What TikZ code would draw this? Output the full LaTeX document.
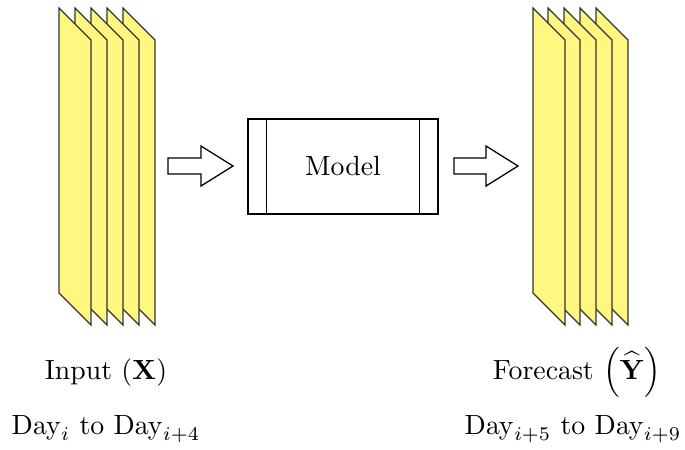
\documentclass[tikz,border=0pt]{standalone}
\usepackage{amsmath}
\begin{document}
\begin{tikzpicture}[x=0.36pt,y=-0.36pt,
  plane/.style={draw=black!80,fill=yellow!50,line width=0.45pt,line join=miter},
  blockarrow/.style={draw=black,fill=white,line width=0.45pt},
  box/.style={draw=black,line width=0.45pt},
  lbl/.style={anchor=base,inner sep=0pt,font=\normalsize}]
\useasboundingbox (0,0) rectangle (685,449);
% input stack (back to front)
\foreach \x in {123,107,91,75,59}{
  \draw[plane] (\x,8) -- (\x+32,40) -- (\x+32,325) -- (\x,293) -- cycle;
}
% output stack
\foreach \x in {596,580,564,548,533}{
  \draw[plane] (\x,8) -- (\x+32,40) -- (\x+32,325) -- (\x,293) -- cycle;
}
% block arrows
\draw[blockarrow] (168,158) -- (201,158) -- (201,146) -- (233,166) -- (201,186) -- (201,174) -- (168,174) -- cycle;
\draw[blockarrow] (454,158) -- (486,158) -- (486,146) -- (518,166) -- (486,186) -- (486,174) -- (454,174) -- cycle;
% model
\node[box,minimum width=68.4pt,minimum height=34.2pt,inner sep=0pt] (model) at (343,166.5) {Model};
\draw[box] ([xshift=7pt]model.north west) -- ([xshift=7pt]model.south west);
\draw[box] ([xshift=-7pt]model.north east) -- ([xshift=-7pt]model.south east);
% labels
\node[lbl] (inlbl) at (106,379) {Input ($\mathbf{X}$)};
\node[lbl] (inday) at (106,434) {$\mathrm{Day}_{i}$ to $\mathrm{Day}_{i+4}$};
\node[lbl] (outlbl) at (577,379) {Forecast $\left(\widehat{\mathbf{Y}}\right)$};
\node[lbl] (outday) at (573,434) {$\mathrm{Day}_{i+5}$ to $\mathrm{Day}_{i+9}$};
\end{tikzpicture}
\end{document}
